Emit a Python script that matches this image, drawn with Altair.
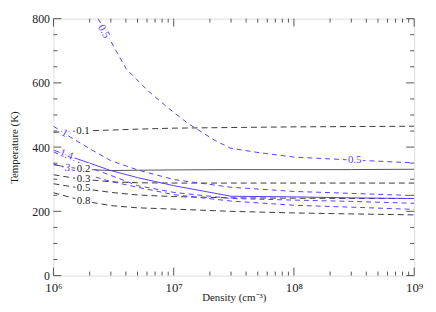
import altair as alt
import pandas as pd

# ---------------- data ----------------
dens_grid = [1.0e6, 1.4e6, 2.0e6, 3.0e6, 5.0e6, 1.0e7, 3.0e7, 1.0e8, 3.0e8, 1.0e9]

# black curves
T_k01 = [446, 449, 451, 453, 456, 459, 461, 463, 464, 465]
T_k02 = [345, 336, 330, 327, 328, 329, 330, 330, 330, 331]
T_k03 = [314, 305, 298, 292, 289, 288, 288, 288, 288, 288]
T_k05 = [286, 277, 268, 259, 251, 246, 242, 241, 240, 240]
T_k08 = [258, 243, 229, 218, 211, 207, 200, 195, 192, 189]

# blue curves
T_b1 = [465, 430, 395, 358, 329, 299, 275, 262, 256, 249]
T_b14 = [391, 370, 350, 327, 305, 280, 247, 245, 242, 240]
T_b2 = [385, 362, 336, 312, 280, 259, 240, 235, 231, 225]
T_b3 = [348, 330, 312, 293, 275, 252, 232, 219, 213, 206]

dens_b05 = [2.35e6, 2.71e6, 3.34e6, 4.04e6, 6.12e6, 8.93e6, 1.31e7,
            2.18e7, 2.95e7, 4.65e7, 9.91e7, 2.97e8, 1.0e9]
T_b05 = [800, 760, 698, 643, 575, 523, 474, 422, 397, 385, 369, 360, 351]

# contour-style labels
blk_lab_text = ["0.1", "0.2", "0.3", "0.5", "0.8"]
blk_lab_dens = [1.76e6, 1.78e6, 1.78e6, 1.78e6, 1.78e6]
blk_lab_T = [449, 332, 302, 273, 233]

blu_lab_text = ["0.5", "0.5", "1", "1.4", "3"]
blu_lab_dens = [2.62e6, 3.2e8, 1.24e6, 1.28e6, 1.31e6]
blu_lab_T = [760, 360, 443, 376, 335]
blu_lab_angle = [60, 0, 30, 20, 10]

x_major = [1e6, 1e7, 1e8, 1e9]
x_minor = [k * 10 ** d for d in (6, 7, 8) for k in range(2, 10)]
y_major = [0, 200, 400, 600, 800]
y_minor = [v for v in range(50, 800, 50) if v % 200 != 0]

# ---------------- styling ----------------
W, H = 365, 260
BLUE = "#5a3cff"
BLACK = "#3a3a3a"
AXC = "#555555"
FONT = "Liberation Serif"

xscale = alt.Scale(type="log", domain=[1e6, 1e9], nice=False)
yscale = alt.Scale(domain=[0, 800], nice=False, zero=False)

xaxis = alt.Axis(
    values=x_major, ticks=False, domain=False, grid=False,
    labelExpr="datum.value == 1e6 ? '10⁶' : datum.value == 1e7 ? '10⁷' : datum.value == 1e8 ? '10⁸' : '10⁹'",
    labelFont=FONT, labelFontSize=13, labelColor="#222", labelPadding=6,
    labelFlush=False, labelOverlap=False,
    title="Density (cm⁻³)", titleFont=FONT, titleFontSize=11,
    titleFontWeight="normal", titleColor="#222", titlePadding=-3,
)
yaxis = alt.Axis(
    values=y_major, ticks=False, domain=False, grid=False,
    labelFont=FONT, labelFontSize=12, labelColor="#222", labelPadding=4,
    labelFlush=False,
    title="Temperature (K)", titleFont=FONT, titleFontSize=11,
    titleFontWeight="normal", titleColor="#222", titlePadding=12,
)

rows = []
def add(name, dens, temps):
    for d, t in zip(dens, temps):
        rows.append({"curve": name, "density": d, "T": t})

add("k0.1", dens_grid, T_k01)
add("k0.2", dens_grid, T_k02)
add("k0.3", dens_grid, T_k03)
add("k0.5", dens_grid, T_k05)
add("k0.8", dens_grid, T_k08)
add("b1", dens_grid, T_b1)
add("b1.4", dens_grid, T_b14)
add("b2", dens_grid, T_b2)
add("b3", dens_grid, T_b3)
add("b0.5", dens_b05, T_b05)
curves = pd.DataFrame(rows)

X = alt.X("density:Q", scale=xscale, axis=xaxis)
Y = alt.Y("T:Q", scale=yscale, axis=yaxis)


def line_layer(names, color, dash, width=1.0):
    df = curves[curves["curve"].isin(names)]
    kw = dict(color=color, strokeWidth=width, clip=True)
    if dash:
        kw["strokeDash"] = dash
    return alt.Chart(df).mark_line(**kw).encode(
        x=X, y=Y, detail="curve:N", order="density:Q")


lines = [
    line_layer(["k0.1", "k0.3", "k0.5", "k0.8"], BLACK, [6, 4]),
    line_layer(["k0.2"], "#555555", None),
    line_layer(["b1", "b2", "b3", "b0.5"], BLUE, [5, 4]),
    line_layer(["b1.4"], BLUE, None),
]

blk_labels = pd.DataFrame({"density": blk_lab_dens, "T": blk_lab_T,
                           "txt": blk_lab_text, "ang": [0] * 5})
blu_labels = pd.DataFrame({"density": blu_lab_dens, "T": blu_lab_T,
                           "txt": blu_lab_text, "ang": blu_lab_angle})


def label_layers(df, color):
    base = alt.Chart(df).encode(x=X, y=Y, text="txt:N", angle=alt.Angle("ang:Q", scale=None))
    halo = base.mark_text(font=FONT, fontSize=11, align="center", baseline="middle",
                          fill="white", stroke="white", strokeWidth=4)
    txt = base.mark_text(font=FONT, fontSize=11, align="center", baseline="middle",
                         color=color)
    return [halo, txt]


def tick_layer(values, channel, side, length):
    df = pd.DataFrame({"v": values})
    if channel == "x":
        enc = dict(x=alt.X("v:Q", scale=xscale, axis=xaxis))
        if side == "bottom":
            enc.update(y=alt.value(H), y2=alt.value(H - length))
        else:
            enc.update(y=alt.value(0), y2=alt.value(length))
    else:
        enc = dict(y=alt.Y("v:Q", scale=yscale, axis=yaxis))
        if side == "left":
            enc.update(x=alt.value(0), x2=alt.value(length))
        else:
            enc.update(x=alt.value(W), x2=alt.value(W - length))
    return alt.Chart(df).mark_rule(color=AXC, strokeWidth=1).encode(**enc)


ticks = [
    tick_layer(x_major, "x", "bottom", 8), tick_layer(x_minor, "x", "bottom", 4),
    tick_layer(x_major, "x", "top", 8), tick_layer(x_minor, "x", "top", 4),
    tick_layer(y_major, "y", "left", 8), tick_layer(y_minor, "y", "left", 4),
    tick_layer(y_major, "y", "right", 8), tick_layer(y_minor, "y", "right", 4),
]

chart = alt.layer(
    *lines,
    *label_layers(blk_labels, "#222222"),
    *label_layers(blu_labels, BLUE),
    *ticks,
).properties(
    width=W, height=H,
    autosize=alt.AutoSizeParams(type="none"),
    padding={"left": 46, "top": 9, "right": 14, "bottom": 27},
).configure_view(stroke=AXC, strokeWidth=1.2).configure(background="white")

chart.save("out.html", embed_options={"renderer": "svg", "actions": False})
